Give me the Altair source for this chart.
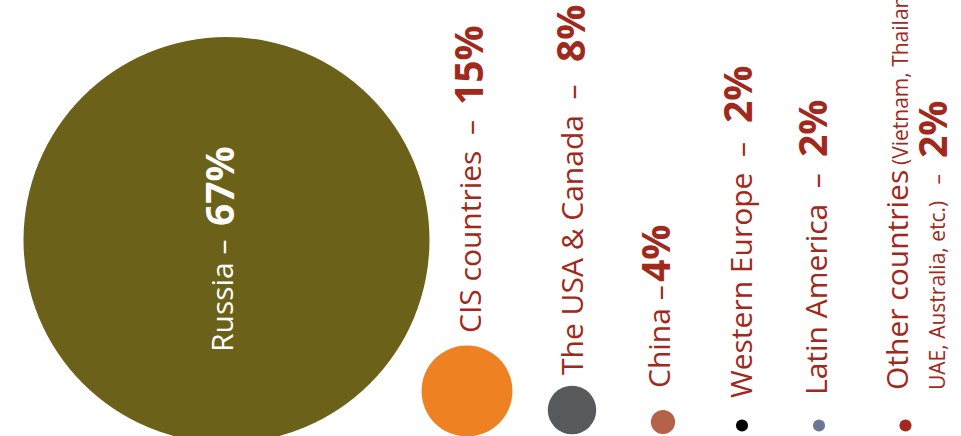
import altair as alt
import pandas as pd

NB = "\u00a0"

# ---- data -------------------------------------------------------------
regions = ["Russia", "CIS countries", "The USA & Canada", "China",
           "Western Europe", "Latin America", "Other countries"]
shares = [67, 15, 8, 4, 2, 2, 2]
share_labels = ["67%", "15%", "8%", "4%", "2%", "2%", "2%"]
name_labels = ["Russia –", "CIS countries" + NB + " –",
               "The USA & Canada" + NB + " –", "China –",
               "Western Europe" + NB + " –", "Latin America" + NB + " –",
               "Other countries"]
note_labels = ["(Vietnam, Thailand,", "UAE, Australia, etc.)" + NB + NB + " –"]

# ---- styles -----------------------------------------------------------
bubble_colors = ["#6B6118", "#EE8121", "#58595B", "#B6614A",
                 "#000000", "#6B7596", "#A3291C"]
TEXT_RED = "#A0291C"
label_colors = ["#FFFFFF"] + [TEXT_RED] * 6
FONT = "Open Sans"

# ---- layout (canvas pixel positions) ----------------------------------
bubble_x = [226.5, 467, 572, 663, 742, 819, 905.5]
bubble_y = [240, 391, 410, 422, 425.5, 425.5, 425.5]
name_x = [233, 481, 583, 670, 752, 827, 908]
name_y = [352, 333, 375, 388, 398, 395, 390]
share_x = [234, 483, 585, 670, 752, 827, 947]
share_y = [226, 105, 62, 282, 123, 157, 158]
note_x = [908, 945]
note_y = [165, 390]

bubbles = pd.DataFrame({"region": regions, "share": shares, "x": bubble_x,
                        "y": bubble_y, "color": bubble_colors})
names = pd.DataFrame({"text": name_labels, "x": name_x, "y": name_y,
                      "color": label_colors})
pcts = pd.DataFrame({"text": share_labels, "x": share_x, "y": share_y,
                     "color": label_colors})
notes = pd.DataFrame({"text": note_labels, "x": note_x, "y": note_y,
                      "color": [TEXT_RED] * 2})

W, H = 961, 436
xs = alt.Scale(domain=[0, W], nice=False, zero=False)
ys = alt.Scale(domain=[0, H], nice=False, zero=False, reverse=True)

X = alt.X("x:Q", scale=xs, axis=None)
Y = alt.Y("y:Q", scale=ys, axis=None)

circles = alt.Chart(bubbles).mark_circle(opacity=1).encode(
    x=X, y=Y,
    size=alt.Size("share:Q", legend=None,
                  scale=alt.Scale(type="pow", exponent=2, domain=[0, 67],
                                  range=[0, 406 * 406])),
    color=alt.Color("color:N", scale=None),
)

def text_layer(df, size, weight):
    return alt.Chart(df).mark_text(
        angle=270, align="left", baseline="alphabetic",
        font=FONT, fontSize=size, fontWeight=weight,
    ).encode(x=X, y=Y, text="text:N", color=alt.Color("color:N", scale=None))

chart = alt.layer(
    circles,
    text_layer(names, 30, "normal"),
    text_layer(pcts, 39, "bold"),
    text_layer(notes, 21, "normal"),
).properties(
    width=W, height=H, padding=0, autosize="none", background="white"
).configure_view(stroke=None)

chart.save("out.html", embed_options={"renderer": "svg", "actions": False})
